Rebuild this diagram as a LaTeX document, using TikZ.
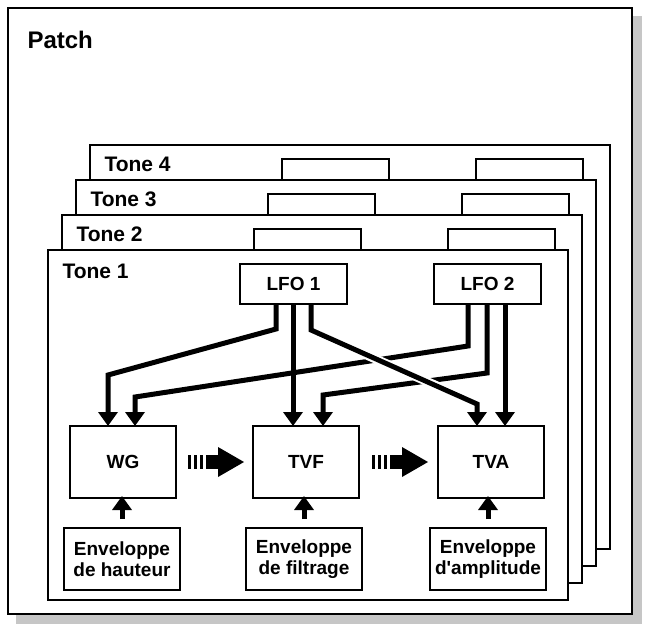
\documentclass[tikz,border=0pt]{standalone}
\usepackage{fontspec}
\setmainfont{Liberation Sans}[Ligatures=TeXOff]
\usetikzlibrary{arrows.meta}
\begin{document}
\begin{tikzpicture}[x=1pt,y=-1pt,
  box/.style={draw,line width=2pt,fill=white},
  lbl/.style={font=\bfseries\fontsize{19}{21}\selectfont,align=center},
  tl/.style={font=\bfseries\fontsize{21}{23}\selectfont},
  arr/.style={line width=5pt,-{Triangle[length=14pt,width=19pt]}}]
\useasboundingbox (0,0) rectangle (650,632);
% patch
\fill[gray!45] (16,16) rectangle (642,624);
\draw[box] (8,8) rectangle (632,614);
\node[anchor=west,font=\bfseries\fontsize{24}{26}\selectfont] (patch) at (24,40) {Patch};
% tone frames back to front
\foreach \k/\lab in {3/Tone 4,2/Tone 3,1/Tone 2}{
  \pgfmathsetmacro\dx{14*\k}
  \pgfmathsetmacro\dy{-35*\k}
  \pgfmathsetmacro\db{-17*\k}
  \begin{scope}[shift={(\dx,\dy)}]
  \draw[box] (48,250) rectangle (568,600+\db-\dy);
  \node[anchor=west,tl] at (59,269) {\lab};
  \draw[box] (240,264) rectangle (347,304);
  \draw[box] (434,264) rectangle (541,304);
  \end{scope}
}
\draw[box] (48,250) rectangle (568,600);
\node[anchor=west,tl] (t1) at (59,271) {Tone 1};
\node[box,lbl,minimum width=107pt,minimum height=40pt] (lfo1) at (293.5,284) {LFO 1};
\node[box,lbl,minimum width=107pt,minimum height=40pt] (lfo2) at (487.5,284) {LFO 2};
\node[box,lbl,minimum width=106pt,minimum height=72pt] (wg) at (123,462) {WG};
\node[box,lbl,minimum width=106pt,minimum height=72pt] (tvf) at (306,462) {TVF};
\node[box,lbl,minimum width=106pt,minimum height=72pt] (tva) at (491,462) {TVA};
\node[box,lbl,minimum width=116pt,minimum height=62pt,inner sep=1pt] (e1) at (122,559) {Enveloppe\\de hauteur};
\node[box,lbl,minimum width=116pt,minimum height=62pt,inner sep=1pt] (e2) at (304,559) {Enveloppe\\de filtrage};
\node[box,lbl,minimum width=116pt,minimum height=62pt,inner sep=1pt] (e3) at (488,559) {Enveloppe\\d'amplitude};
% envelope arrows
\foreach \e/\b in {e1/wg,e2/tvf,e3/tva}
  \draw[arr] (\e.north) ++(0,-8) -- ([yshift=3pt]\e.north |- \b.south);
% LFO arrows
\draw[arr] (276,304) -- (276,329) -- (108,375) -- (108,426);
\draw[arr] (293,304) -- (293,426);
\draw[arr] (468,304) -- (468,346) -- (135,397) -- (135,426);
\draw[arr] (487,304) -- (487,373) -- (323,395) -- (323,426);
\draw[line width=9pt,white] (330,339) -- (460,396);
\draw[arr] (311,304) -- (311,330) -- (477,404) -- (477,426);
\draw[arr] (505,304) -- (505,426);
% fat dashed arrows
\foreach \xa in {188,372}{
  \fill (\xa,455) rectangle ++(3,14);
  \fill (\xa+6,455) rectangle ++(3,14);
  \fill (\xa+12,455) rectangle ++(3,14);
  \fill (\xa+18,455) rectangle ++(12,14);
  \fill (\xa+30,447) -- (\xa+56,462) -- (\xa+30,477) -- cycle;
}
\end{tikzpicture}
\end{document}
